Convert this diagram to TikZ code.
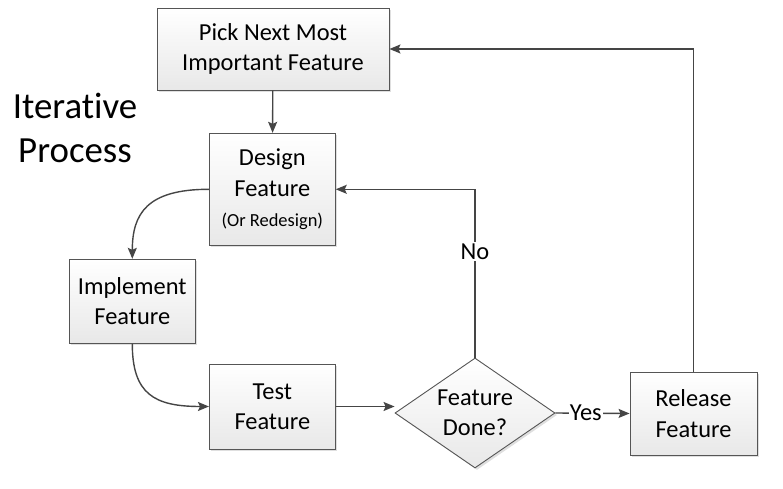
\documentclass[tikz,border=0pt]{standalone}
\usepackage{fontspec}
\setmainfont[Ligatures=NoCommon]{Carlito}
\usetikzlibrary{arrows.meta,shapes.geometric,shadows}
\definecolor{linec}{HTML}{454545}
\definecolor{boxline}{HTML}{555555}
\begin{document}
\begin{tikzpicture}[x=1bp,y=-1bp,
  every node/.style={font=\fontsize{24.5}{30.5}\selectfont, text=black},
  box/.style={draw=boxline, line width=0.9bp, top color=white, bottom color=gray!18,
    align=center, inner sep=0pt,
    drop shadow={shadow xshift=2bp, shadow yshift=-2bp, opacity=0.25, fill=gray}},
  arr/.style={draw=linec, line width=1.4bp, -{Stealth[length=11bp,width=9bp,inset=2bp]}},
  lbl/.style={fill=white, inner sep=2bp}]
\useasboundingbox (0,0) rectangle (783,489);
% title
\node[anchor=base, font=\fontsize{37}{44}\selectfont] (iter) at (75,119) {Iterative};
\node[anchor=base, font=\fontsize{37}{44}\selectfont] (proc) at (75,162.7) {Process};
% boxes
\node[box, minimum width=232bp, minimum height=82bp] (pick) at (273,49) {Pick Next Most\\Important Feature};
\node[box, minimum width=126bp, minimum height=112bp] (design) at (272.3,189.3)
  {Design\\Feature\\[0bp]{\fontsize{18.5}{22}\selectfont (Or Redesign)}};
\node[box, minimum width=126bp, minimum height=84bp] (impl) at (132.3,301.3) {Implement\\Feature};
\node[box, minimum width=126bp, minimum height=85bp] (test) at (272.4,406.5) {Test\\Feature};
\node[box, shape=diamond, aspect=1.5, minimum width=160bp, minimum height=110bp] (dia) at (475,413) {Feature\\Done?};
\node[box, minimum width=127bp, minimum height=83bp] (rel) at (693.5,413.5) {Release\\Feature};
% connectors
\draw[arr] (pick) -- (design);
\draw[arr] (design.west) .. controls +(-62,0) and +(0,-45) .. (impl.north);
\draw[arr] (impl.south) .. controls +(0,50) and +(-55,0) .. (test.west);
\draw[arr] (test.east) -- (test.east -| dia.west);
\draw[arr] (dia.north) -- node[lbl, pos=0.63] (no) {No} (dia.north |- design.east) -- (design.east);
\draw[arr] (dia.east) -- node[lbl, pos=0.41, inner sep=1bp] (yes) {Yes} (rel.west);
\draw[arr] (rel.north) -- (rel.north |- pick.east) -- (pick.east);
\end{tikzpicture}
\end{document}
